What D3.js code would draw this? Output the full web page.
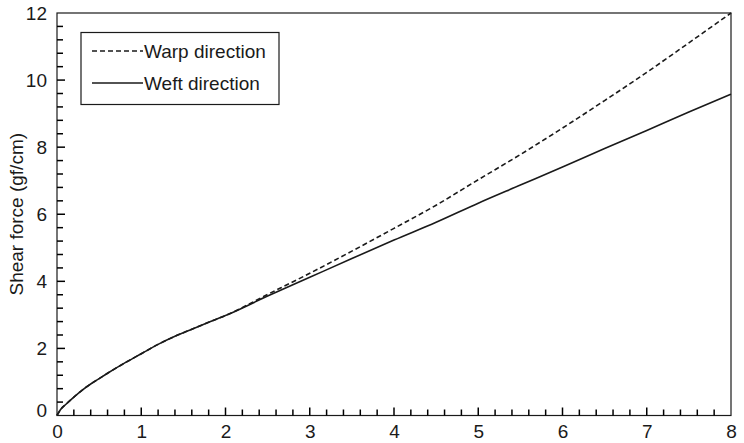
<!DOCTYPE html>
<html>
<head>
<meta charset="utf-8">
<script src="https://cdn.jsdelivr.net/npm/d3@7"></script>
<style>
  html, body { margin: 0; padding: 0; background: #fff; }
  svg { display: block; font-family: "Liberation Sans", Arial, sans-serif; }
</style>
</head>
<body>
<svg id="chart" width="744" height="443"></svg>
<script>
// Displacement values (x axis)
const displacement = [0, 0.05, 0.1, 0.2, 0.3, 0.4, 0.5, 0.6, 0.8, 1.0, 1.2, 1.4, 1.6, 1.8, 2.0,
                      2.5, 3.0, 3.5, 4.0, 4.5, 5.0, 5.5, 6.0, 6.5, 7.0, 7.5, 8.0];
// Shear force, warp direction (gf/cm)
const warpForce = [0, 0.2, 0.32, 0.55, 0.76, 0.94, 1.1, 1.26, 1.56, 1.84, 2.12, 2.36, 2.57, 2.78, 2.98,
                   3.61, 4.24, 4.90, 5.58, 6.27, 7.03, 7.78, 8.57, 9.39, 10.23, 11.11, 12.0];
// Shear force, weft direction (gf/cm)
const weftForce = [0, 0.2, 0.32, 0.55, 0.76, 0.94, 1.1, 1.26, 1.56, 1.84, 2.12, 2.36, 2.57, 2.78, 2.98,
                   3.56, 4.12, 4.68, 5.23, 5.76, 6.33, 6.87, 7.41, 7.96, 8.50, 9.05, 9.58];
const xTicks = [0, 1, 2, 3, 4, 5, 6, 7, 8];
const yTicks = [0, 2, 4, 6, 8, 10, 12];
const seriesNames = ["Warp direction", "Weft direction"];

const ink = "#1a1a1a";
const fontSize = 19;
const svg = d3.select("#chart");
const plotLeft = 57, plotRight = 731, plotTop = 13, plotBottom = 415.5;

const x = d3.scaleLinear().domain([0, 8]).range([plotLeft, plotRight]);
const y = d3.scaleLinear().domain([0, 12]).range([plotBottom, plotTop]);

// Tick positions: majors from the label lists, minors in between
const xMinor = d3.range(1, 40).map(i => i / 5).filter(v => !xTicks.includes(Math.round(v * 1000) / 1000));
const yMinor = d3.range(1, 30).map(i => i * 0.4).filter(v => !yTicks.includes(Math.round(v * 1000) / 1000));
const xMajorInner = xTicks.slice(1, -1);
const yMajorInner = yTicks.slice(1, -1);

// Frame
svg.append("rect")
  .attr("x", plotLeft).attr("y", plotTop)
  .attr("width", plotRight - plotLeft).attr("height", plotBottom - plotTop)
  .attr("fill", "none").attr("stroke", ink).attr("stroke-width", 1.2);

// Tick marks, pointing into the plot
const tickLayer = svg.append("g").attr("stroke", "#000").attr("stroke-width", 1.5);
[[xMinor, 6, "xminor"], [xMajorInner, 8, "xmajor"]].forEach(([vals, len, cls]) => {
  tickLayer.selectAll("line." + cls).data(vals).join("line").attr("class", cls)
    .attr("x1", d => x(d)).attr("x2", d => x(d))
    .attr("y1", plotBottom).attr("y2", plotBottom - len);
});
[[yMinor, 6, "yminor"], [yMajorInner, 8, "ymajor"]].forEach(([vals, len, cls]) => {
  tickLayer.selectAll("line." + cls).data(vals).join("line").attr("class", cls)
    .attr("y1", d => y(d)).attr("y2", d => y(d))
    .attr("x1", plotLeft).attr("x2", plotLeft + len);
});

// Tick labels through the axis generators
const axX = svg.append("g").attr("transform", `translate(0,${plotBottom})`)
  .call(d3.axisBottom(x).tickValues(xTicks).tickSize(0).tickPadding(9).tickFormat(d3.format("d")));
const axY = svg.append("g").attr("transform", `translate(${plotLeft},0)`)
  .call(d3.axisLeft(y).tickValues(yTicks).tickSize(0).tickPadding(10).tickFormat(d3.format("d")));
axX.select(".domain").remove();
axY.select(".domain").remove();
svg.selectAll(".tick text").attr("fill", ink).attr("font-size", fontSize)
   .attr("font-family", "Liberation Sans, Arial, sans-serif");
// lift the zero label clear of the x axis
axY.selectAll(".tick").filter(d => d === 0).select("text").attr("dy", "0.05em");

// Curves
const line = vals => d3.line()
  .x((d, i) => x(displacement[i]))
  .y(d => y(d))
  .curve(d3.curveMonotoneX)(vals);

svg.append("path").attr("d", line(weftForce))
  .attr("fill", "none").attr("stroke", ink).attr("stroke-width", 1.6);
svg.append("path").attr("d", line(warpForce))
  .attr("fill", "none").attr("stroke", ink).attr("stroke-width", 1.6)
  .attr("stroke-dasharray", "5,3");

// Axis title
svg.append("text")
  .attr("transform", `translate(23,${(plotTop + plotBottom) / 2}) rotate(-90)`)
  .attr("text-anchor", "middle")
  .attr("font-size", fontSize).attr("fill", ink)
  .text("Shear force (gf/cm)");

// Legend
const lg = svg.append("g");
lg.append("rect").attr("x", 81).attr("y", 32.5).attr("width", 198).attr("height", 72)
  .attr("fill", "#fff").attr("stroke", ink).attr("stroke-width", 1.2);
const lgY = [51, 83];
seriesNames.forEach((name, i) => {
  lg.append("line").attr("x1", 92).attr("x2", 143).attr("y1", lgY[i]).attr("y2", lgY[i])
    .attr("stroke", ink).attr("stroke-width", 1.4)
    .attr("stroke-dasharray", i === 0 ? "5,3" : null);
  lg.append("text").attr("x", 144).attr("y", lgY[i]).attr("dy", "0.35em")
    .attr("font-size", fontSize).attr("fill", ink).text(name);
});
</script>
</body>
</html>
